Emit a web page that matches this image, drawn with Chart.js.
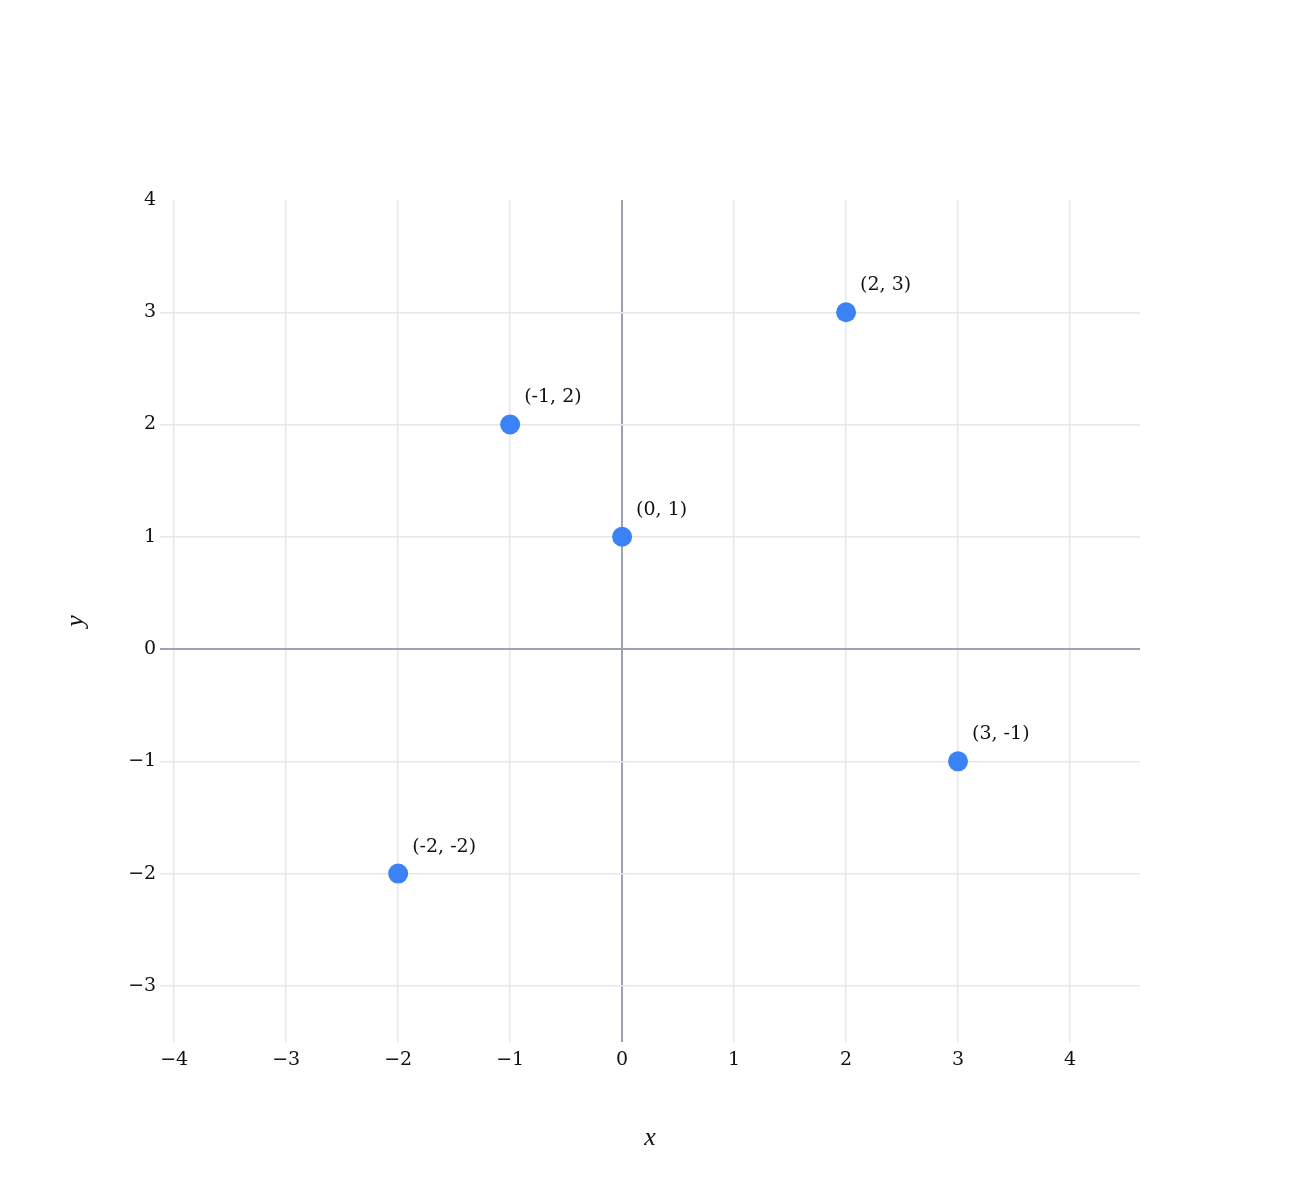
<!DOCTYPE html>
<html>
<head>
<meta charset="utf-8">
<script src="https://cdn.jsdelivr.net/npm/chart.js@4.4.1/dist/chart.umd.min.js"></script>
<style>
  html, body { margin: 0; padding: 0; background: #fff; }
  #wrap { width: 1300px; height: 1200px; }
</style>
</head>
<body>
<div id="wrap"><canvas id="myChart" width="1300" height="1200"></canvas></div>
<script>
const pointX = [-2, -1, 0, 2, 3];
const pointY = [-2, 2, 1, 3, -1];
const pointLabels = ["(-2, -2)", "(-1, 2)", "(0, 1)", "(2, 3)", "(3, -1)"];
const xTicks = [-4, -3, -2, -1, 0, 1, 2, 3, 4];
const yTicks = [-3, -2, -1, 0, 1, 2, 3, 4];

const colors = {
    point: "#3b82f6",
    grid: "#e5e7eb",
    zero: "#9ca3af",
    text: "#111111"
};
const serif = "'DejaVu Serif', 'Liberation Serif', serif";
const titleFont = "'Liberation Serif', serif";

const fmt = v => (v < 0 ? "\u2212" + Math.abs(v) : String(v));

// labels next to each point
const pointLabelPlugin = {
    id: "pointLabels",
    afterDatasetsDraw(chart) {
        const ctx = chart.ctx;
        const meta = chart.getDatasetMeta(0);
        ctx.save();
        ctx.font = "19px " + serif;
        ctx.fillStyle = colors.text;
        ctx.textAlign = "left";
        ctx.textBaseline = "middle";
        meta.data.forEach((el, i) => {
            ctx.fillText(pointLabels[i], el.x + 14, el.y - 27);
        });
        ctx.restore();
    }
};

const ctx = document.getElementById("myChart").getContext("2d");
const myChart = new Chart(ctx, {
    type: "scatter",
    data: {
        datasets: [{
            data: pointX.map((x, i) => ({ x: x, y: pointY[i] })),
            backgroundColor: colors.point,
            borderWidth: 0,
            pointRadius: 10,
            pointHoverRadius: 10
        }]
    },
    options: {
        responsive: false,
        animation: false,
        layout: { padding: { top: 200, right: 160, bottom: 46, left: 61 } },
        plugins: {
            legend: { display: false },
            tooltip: { enabled: false }
        },
        scales: {
            x: {
                type: "linear",
                min: -4.125,
                max: 4.625,
                afterBuildTicks: s => { s.ticks = xTicks.map(v => ({ value: v })); },
                border: { display: false },
                grid: {
                    drawTicks: false,
                    color: c => (c.tick && c.tick.value === 0 ? colors.zero : colors.grid),
                    lineWidth: c => (c.tick && c.tick.value === 0 ? 2 : 1.5)
                },
                ticks: {
                    padding: 7,
                    color: colors.text,
                    font: { family: serif, size: 19 },
                    callback: v => fmt(v)
                },
                title: {
                    display: true,
                    text: "x",
                    color: colors.text,
                    font: { family: titleFont, size: 26, style: "italic" },
                    padding: { top: 44, bottom: 0 }
                }
            },
            y: {
                type: "linear",
                min: -3.5,
                max: 4,
                afterBuildTicks: s => { s.ticks = yTicks.map(v => ({ value: v })); },
                border: { display: false },
                grid: {
                    drawTicks: false,
                    color: c => {
                        if (!c.tick) return colors.grid;
                        if (c.tick.value === 4) return "rgba(0,0,0,0)";
                        return c.tick.value === 0 ? colors.zero : colors.grid;
                    },
                    lineWidth: c => (c.tick && c.tick.value === 0 ? 2 : 1.5)
                },
                ticks: {
                    padding: 4,
                    color: colors.text,
                    font: { family: serif, size: 19 },
                    callback: v => fmt(v)
                },
                title: {
                    display: true,
                    text: "y",
                    color: colors.text,
                    font: { family: titleFont, size: 26, style: "italic" },
                    padding: { top: 0, bottom: 32 }
                }
            }
        }
    },
    plugins: [pointLabelPlugin]
});
</script>
</body>
</html>
